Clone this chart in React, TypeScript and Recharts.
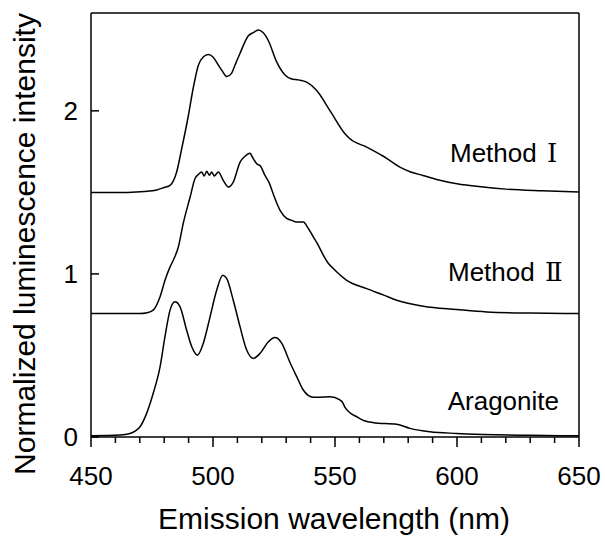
import { LineChart, Line, XAxis, YAxis, ReferenceLine } from "recharts";

// [wavelength nm, normalized intensity]
const methodI: [number, number][] = [
  [450, 1.5], [465, 1.5], [472, 1.505], [477, 1.515], [480, 1.53], [482.4, 1.543], [485.1, 1.625],
  [487.2, 1.77], [489.9, 1.97], [491.9, 2.14], [494, 2.28], [496, 2.33], [498.1, 2.345], [500, 2.33],
  [502.2, 2.28], [504, 2.24], [505.6, 2.21], [507.6, 2.23], [509, 2.28], [511, 2.35], [514.5, 2.46],
  [516.5, 2.48], [518.6, 2.495], [520.5, 2.48], [522.7, 2.43], [526.1, 2.3], [529.5, 2.22], [532, 2.197],
  [535, 2.19], [538.4, 2.176], [542.5, 2.125], [548, 2.0], [554.1, 1.86], [556, 1.83], [563, 1.778],
  [570, 1.72], [576.6, 1.655], [581, 1.625], [586, 1.604], [593, 1.575], [600, 1.553], [610.7, 1.533],
  [620, 1.52], [635, 1.51], [650, 1.503],
];

const methodII: [number, number][] = [
  [450, 0.757], [470, 0.757], [473, 0.762], [475.5, 0.778], [478.3, 0.86], [480.3, 0.96], [482.4, 1.043],
  [483.7, 1.084], [485.8, 1.165], [487.8, 1.31], [490.6, 1.47], [492.6, 1.584], [494, 1.61], [495.4, 1.625],
  [496.4, 1.6], [497.4, 1.63], [498.5, 1.605], [499.5, 1.625], [500.5, 1.6], [502.2, 1.625], [504.2, 1.574],
  [506.3, 1.533], [508.3, 1.563], [511.1, 1.686], [513, 1.72], [515.2, 1.74], [516, 1.72], [517.9, 1.676],
  [519.5, 1.66], [521.3, 1.604], [523, 1.56], [524.7, 1.49], [527.5, 1.39], [530.2, 1.34], [532, 1.33],
  [534.3, 1.318], [537, 1.318], [539, 1.28], [541.1, 1.227], [543, 1.18], [545.2, 1.115], [547, 1.07],
  [549.3, 1.033], [554.8, 0.961], [563, 0.91], [570, 0.87], [575.3, 0.839], [586.2, 0.802], [599.9, 0.782],
  [612.2, 0.767], [630, 0.76], [650, 0.757],
];

const aragonite: [number, number][] = [
  [450, 0.008], [461.9, 0.012], [466, 0.022], [470.1, 0.063], [472.8, 0.145], [475.5, 0.268], [478.3, 0.43],
  [480.3, 0.614], [482.4, 0.778], [484.4, 0.829], [486.5, 0.798], [489.2, 0.655], [491.3, 0.553],
  [493.6, 0.502], [496, 0.574], [498.8, 0.737], [501.5, 0.9], [504, 0.992], [505.6, 0.972], [508.3, 0.839],
  [511.1, 0.675], [513.8, 0.533], [516.5, 0.482], [519.3, 0.513], [522.7, 0.584], [525.4, 0.61],
  [526.5, 0.605], [528.2, 0.574], [531.6, 0.455], [534.3, 0.37], [537, 0.288], [539, 0.255], [541.1, 0.243],
  [545, 0.245], [548, 0.247], [552, 0.227], [553, 0.215], [554.1, 0.182], [556, 0.15], [558.9, 0.124],
  [562, 0.1], [565.7, 0.088], [575.3, 0.078], [580.7, 0.053], [588.9, 0.032], [599.9, 0.022],
  [610.8, 0.016], [630, 0.01], [650, 0.008],
];

const xTicks = [450, 460, 470, 480, 490, 500, 510, 520, 530, 540, 550, 560, 570, 580, 590, 600, 610, 620, 630, 640, 650];
const yTicks = [0, 1, 2];

const toRows = (pts: [number, number][]) => pts.map(([nm, v]) => ({ nm, v }));

const SANS = "'Liberation Sans', Arial, sans-serif";
const SERIF = "'DejaVu Serif', 'Liberation Serif', serif";

function XTick({ x, y, payload }: any) {
  const major = payload.value % 50 === 0;
  return (
    <g>
      <line x1={x} x2={x} y1={y} y2={y + (major ? 10 : 6)} stroke="#000" strokeWidth={1.5} />
      {major && (
        <text x={x} y={y + 48} textAnchor="middle" fontSize={26} fontFamily={SANS} fill="#000">
          {payload.value}
        </text>
      )}
    </g>
  );
}

function YTick({ x, y, payload }: any) {
  return (
    <g>
      <line x1={x} x2={x + 8} y1={y} y2={y} stroke="#000" strokeWidth={1.5} />
      <text x={x - 13} y={y + 9} textAnchor="end" fontSize={26} fontFamily={SANS} fill="#000">
        {payload.value}
      </text>
    </g>
  );
}

export default function App() {
  return (
    <div style={{ position: "absolute", left: 0, top: 0, background: "#fff" }}>
      <LineChart width={605} height={538} margin={{ top: 13, right: 26, left: 0, bottom: 0 }}>
        <XAxis
          type="number"
          dataKey="nm"
          domain={[450, 650]}
          ticks={xTicks}
          interval={0}
          tickSize={0}
          tickMargin={0}
          tickLine={false}
          tick={<XTick />}
          height={101}
          axisLine={{ stroke: "#000", strokeWidth: 1.5 }}
          allowDataOverflow
        />
        <YAxis
          type="number"
          domain={[0, 2.6]}
          ticks={yTicks}
          interval={0}
          tickSize={0}
          tickMargin={0}
          tickLine={false}
          tick={<YTick />}
          width={91}
          axisLine={{ stroke: "#000", strokeWidth: 1.5 }}
          allowDataOverflow
        />
        <ReferenceLine y={2.6} stroke="#000" strokeWidth={1.5} />
        <ReferenceLine x={650} stroke="#000" strokeWidth={1.5} />
        <Line data={toRows(methodI)} dataKey="v" type="monotone" stroke="#000" strokeWidth={1.5} dot={false} isAnimationActive={false} />
        <Line data={toRows(methodII)} dataKey="v" type="monotone" stroke="#000" strokeWidth={1.5} dot={false} isAnimationActive={false} />
        <Line data={toRows(aragonite)} dataKey="v" type="monotone" stroke="#000" strokeWidth={1.5} dot={false} isAnimationActive={false} />
        <text x={450} y={162} fontSize={26} fontFamily={SANS} fill="#000">
          Method<tspan x={547} fontFamily={SERIF}>Ⅰ</tspan>
        </text>
        <text x={448} y={281} fontSize={26} fontFamily={SANS} fill="#000">
          Method<tspan x={545} fontFamily={SERIF}>Ⅱ</tspan>
        </text>
        <text x={559} y={410} textAnchor="end" fontSize={26} fontFamily={SANS} fill="#000">
          Aragonite
        </text>
        <text x={334} y={529} textAnchor="middle" fontSize={30} fontFamily={SANS} fill="#000">
          Emission wavelength (nm)
        </text>
        <text
          x={24}
          y={244}
          transform="rotate(-90 24 244)"
          textAnchor="middle"
          dominantBaseline="central"
          fontSize={30}
          fontFamily={SANS}
          fill="#000"
        >
          Normalized luminescence intensity
        </text>
      </LineChart>
    </div>
  );
}
